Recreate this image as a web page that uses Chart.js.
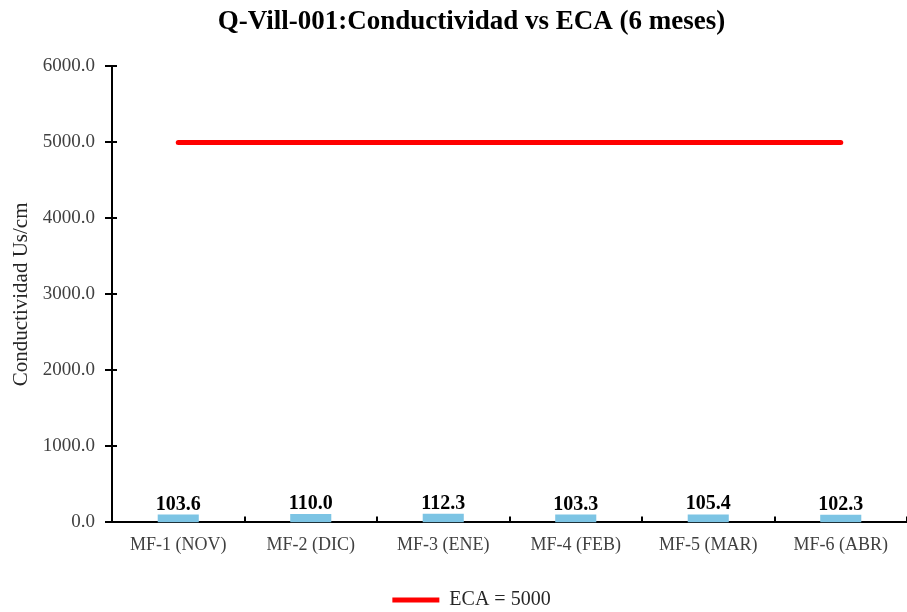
<!DOCTYPE html>
<html>
<head>
<meta charset="utf-8">
<script src="https://cdn.jsdelivr.net/npm/chart.js@4.4.1/dist/chart.umd.min.js"></script>
<style>
  html, body { margin: 0; padding: 0; background: #ffffff; }
  #wrap { width: 907px; height: 612px; }
</style>
</head>
<body>
<div id="wrap"><canvas id="myChart"></canvas></div>
<script>
const categories = ['MF-1 (NOV)', 'MF-2 (DIC)', 'MF-3 (ENE)', 'MF-4 (FEB)', 'MF-5 (MAR)', 'MF-6 (ABR)'];
const conductividad = [103.6, 110.0, 112.3, 103.3, 105.4, 102.3];
const eca = [5000, 5000, 5000, 5000, 5000, 5000];
const yMin = 0;
const yMax = 6000;
const yStep = 1000;

const serif = "'Liberation Serif', 'Times New Roman', serif";

// value labels above the bars
const barLabels = {
  id: 'barLabels',
  afterDatasetsDraw(chart) {
    const ctx = chart.ctx;
    const meta = chart.getDatasetMeta(1);
    ctx.save();
    ctx.font = 'bold 20px ' + serif;
    ctx.fillStyle = '#000000';
    ctx.textAlign = 'center';
    ctx.textBaseline = 'alphabetic';
    meta.data.forEach((bar, i) => {
      ctx.fillText(conductividad[i].toFixed(1), bar.x, bar.y - 5);
    });
    ctx.restore();
  }
};

// tick marks like the original (crossing the y axis, inside on the x axis)
const axisTicks = {
  id: 'axisTicks',
  afterDraw(chart) {
    const ctx = chart.ctx;
    const x = chart.scales.x;
    const y = chart.scales.y;
    ctx.save();
    ctx.strokeStyle = '#000000';
    ctx.lineWidth = 2;
    ctx.beginPath();
    y.ticks.forEach(t => {
      const py = Math.round(y.getPixelForValue(t.value));
      ctx.moveTo(y.right - 7, py);
      ctx.lineTo(y.right + 5, py);
    });
    for (let i = 1; i <= categories.length; i++) {
      const px = Math.round(x.left + (x.width / categories.length) * i);
      ctx.moveTo(px, x.top);
      ctx.lineTo(px, x.top - 6);
    }
    ctx.stroke();
    ctx.restore();
  }
};

new Chart(document.getElementById('myChart'), {
  data: {
    labels: categories,
    datasets: [
      {
        type: 'line',
        label: 'ECA = 5000',
        data: eca,
        borderColor: '#FF0000',
        backgroundColor: '#FF0000',
        borderWidth: 5,
        borderCapStyle: 'round',
        pointRadius: 0,
        pointStyle: 'line',
        order: 0
      },
      {
        type: 'bar',
        label: 'Conductividad',
        data: conductividad,
        backgroundColor: '#7CC4E4',
        categoryPercentage: 1,
        barPercentage: 0.31,
        order: 1
      }
    ]
  },
  options: {
    responsive: true,
    maintainAspectRatio: false,
    animation: false,
    layout: { padding: { left: 30, right: -6, top: 0, bottom: -8 } },
    plugins: {
      title: {
        display: true,
        text: 'Q-Vill-001:Conductividad vs ECA (6 meses)',
        color: '#000000',
        font: { family: serif, size: 27, weight: 'bold' },
        padding: { top: 6, bottom: 28 }
      },
      legend: {
        position: 'bottom',
        labels: {
          filter: item => item.text === 'ECA = 5000',
          usePointStyle: true,
          pointStyle: 'line',
          pointStyleWidth: 47,
          boxHeight: 5,
          color: '#262626',
          padding: 22,
          font: { family: serif, size: 20 }
        }
      },
      tooltip: { enabled: false }
    },
    scales: {
      x: {
        offset: true,
        grid: { display: false, drawTicks: false },
        border: { display: true, color: '#000000', width: 2 },
        ticks: {
          color: '#404040',
          padding: 12,
          maxRotation: 0,
          autoSkip: false,
          font: { family: serif, size: 18 }
        }
      },
      y: {
        min: yMin,
        max: yMax,
        afterFit: scale => { scale.width = 82; },
        grid: { display: false, drawTicks: false },
        border: { display: true, color: '#000000', width: 2 },
        ticks: {
          stepSize: yStep,
          color: '#404040',
          padding: 17,
          font: { family: serif, size: 19 },
          callback: v => v.toFixed(1)
        },
        title: {
          display: true,
          text: 'Conductividad Us/cm',
          color: '#262626',
          padding: { top: -21, bottom: 0 },
          font: { family: serif, size: 21 }
        }
      }
    }
  },
  plugins: [barLabels, axisTicks]
});
</script>
</body>
</html>
